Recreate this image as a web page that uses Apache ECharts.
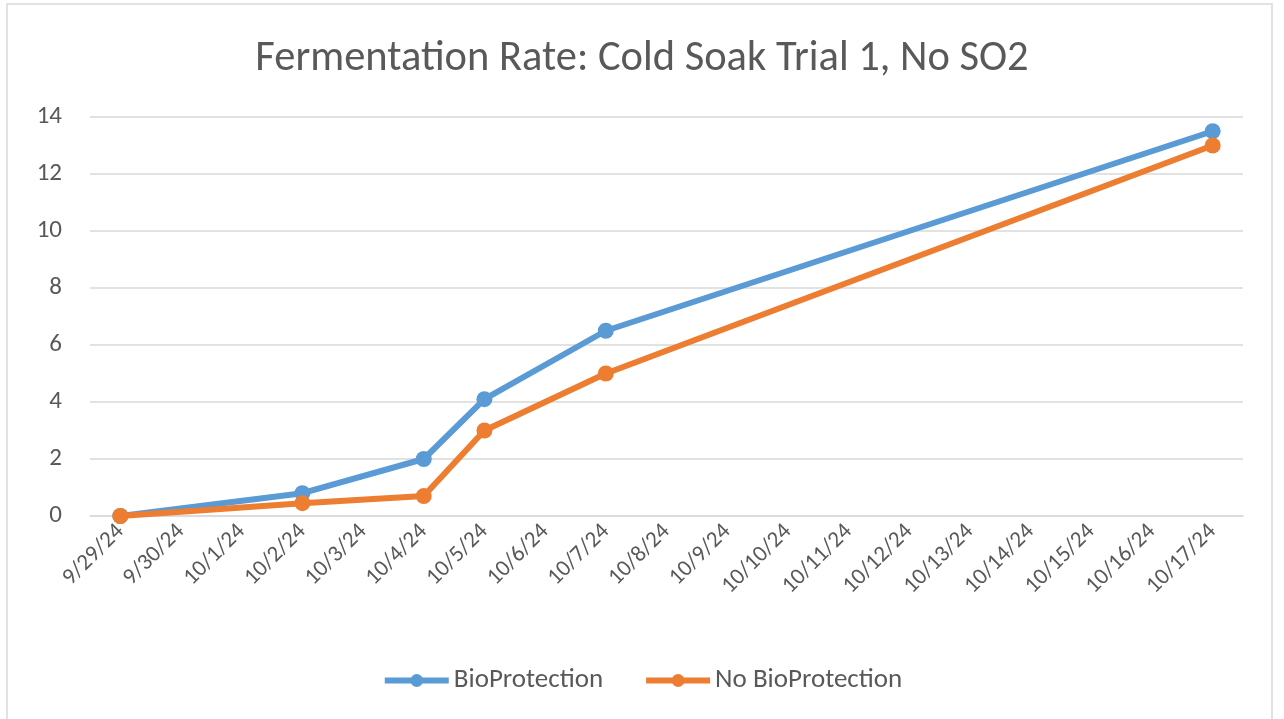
<!DOCTYPE html>
<html>
<head>
<meta charset="utf-8">
<title>Fermentation Rate</title>
<script src="https://cdn.jsdelivr.net/npm/echarts@6/dist/echarts.min.js"></script>
<style>
  html, body { margin: 0; padding: 0; background: #fff; }
  #chart { width: 1284px; height: 719px; }
</style>
</head>
<body>
<div id="chart"></div>
<script>
// every day on the axis, the readings only on some of them
const dates = ['9/29/24', '9/30/24', '10/1/24', '10/2/24', '10/3/24', '10/4/24', '10/5/24',
  '10/6/24', '10/7/24', '10/8/24', '10/9/24', '10/10/24', '10/11/24', '10/12/24',
  '10/13/24', '10/14/24', '10/15/24', '10/16/24', '10/17/24'];
const bioProtection = [0, null, null, 0.8, null, 2.0, 4.1, null, 6.5,
  null, null, null, null, null, null, null, null, null, 13.5];
const noBioProtection = [0, null, null, 0.45, null, 0.7, 3.0, null, 5.0,
  null, null, null, null, null, null, null, null, null, 13.0];

const FONT = "Carlito, 'Open Sans', sans-serif";
const TEXT = '#595959';

function lineSeries(name, data, color, z) {
  return {
    name: name,
    type: 'line',
    data: data,
    connectNulls: true,
    symbol: 'circle',
    symbolSize: 16,
    itemStyle: { color: color },
    lineStyle: { width: 6, color: color },
    z: z,
  };
}

const chart = echarts.init(document.getElementById('chart'));
chart.setOption({
  animation: false,
  graphic: [{
    type: 'rect',
    shape: { x: 7, y: 4, width: 1265, height: 730 },
    style: { fill: 'none', stroke: '#D9D9D9', lineWidth: 1.5 },
    silent: true,
  }],
  title: {
    text: 'Fermentation Rate: Cold Soak Trial 1, No SO2',
    left: 'center',
    top: 33,
    textStyle: { fontFamily: FONT, fontSize: 42.5, fontWeight: 'normal', color: TEXT },
  },
  grid: { left: 90, right: 41, top: 117, bottom: 203 },
  legend: {
    top: 662,
    left: 'center',
    itemWidth: 64,
    itemHeight: 16,
    itemGap: 40,
    lineStyle: { width: 6 },
    textStyle: { fontFamily: FONT, fontSize: 27, color: TEXT },
    data: ['BioProtection', 'No BioProtection'],
  },
  xAxis: {
    type: 'category',
    data: dates,
    boundaryGap: true,
    axisLine: { lineStyle: { color: '#D9D9D9', width: 1.5 } },
    axisTick: { show: false },
    axisLabel: {
      interval: 0,
      rotate: 45,
      margin: 12,
      fontFamily: FONT,
      fontSize: 23,
      color: TEXT,
    },
  },
  yAxis: {
    type: 'value',
    min: 0,
    max: 14,
    interval: 2,
    axisLine: { show: false },
    axisTick: { show: false },
    axisLabel: { fontFamily: FONT, fontSize: 25, color: TEXT, margin: 28 },
    splitLine: { lineStyle: { color: '#D9D9D9', width: 1.5 } },
  },
  series: [
    lineSeries('BioProtection', bioProtection, '#5B9BD5', 2),
    lineSeries('No BioProtection', noBioProtection, '#ED7D31', 3),
  ],
});
</script>
</body>
</html>
